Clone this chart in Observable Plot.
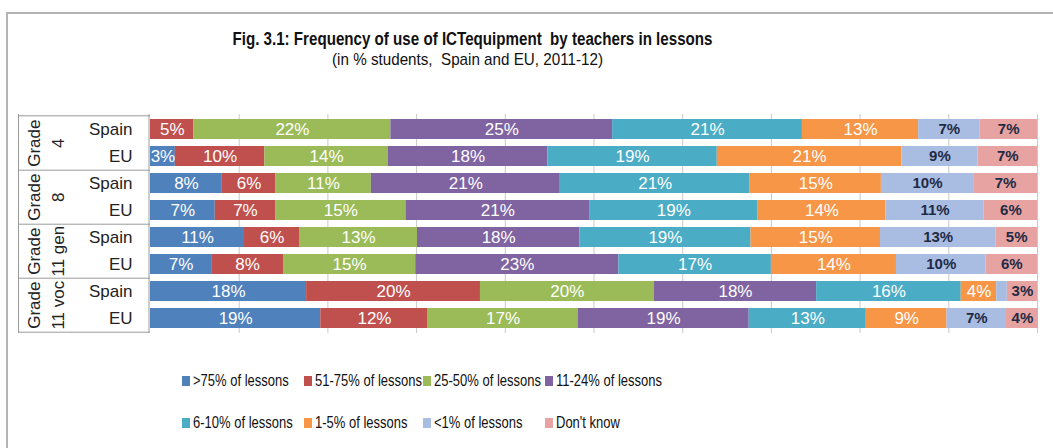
<!DOCTYPE html>
<html><head><meta charset="utf-8">
<script src="https://cdn.jsdelivr.net/npm/d3@7"></script>
<script src="https://cdn.jsdelivr.net/npm/@observablehq/plot@0.6"></script>
<style>
body{margin:0;background:#fff;}
#wrap{position:relative;width:1053px;height:448px;overflow:hidden;font-family:"Liberation Sans",Arial,sans-serif;background:#fff;}
#frame{position:absolute;left:6px;top:12px;width:1100px;height:500px;border-left:2px solid #b4b4b4;border-top:2px solid #b4b4b4;}
.sq{display:inline-block;white-space:nowrap;}
#title{position:absolute;left:0;width:944px;top:29px;text-align:center;font-weight:bold;font-size:17.5px;color:#111;line-height:20px;}
#subtitle{position:absolute;left:0;width:936px;top:50px;text-align:center;font-size:17px;color:#111;line-height:20px;}
#title .sq,#subtitle .sq{transform-origin:center;}
#chart{position:absolute;left:0;top:0;}
#legend{position:absolute;left:182px;top:371px;display:grid;grid-template-columns:122px 119px 122px auto;row-gap:22px;font-size:17px;color:#111;}
.item{display:flex;align-items:center;height:20px;white-space:nowrap;}
.item .sq{transform:scaleX(0.765);transform-origin:left center;}
.sw{width:8px;height:10px;margin-right:3px;display:inline-block;flex:none;}
</style></head>
<body>
<div id="wrap">
  <div id="frame"></div>
  <div id="title"><span class="sq" data-w="480">Fig. 3.1: Frequency of use of ICTequipment&nbsp; by teachers in lessons</span></div>
  <div id="subtitle"><span class="sq" data-w="271">(in % students,&nbsp; Spain and EU, 2011-12)</span></div>
  <div id="chart"></div>
  <div id="legend"></div>
</div>
<script>
const grades = ["Grade 4", "Grade 8", "Grade 11 gen", "Grade 11 voc"];
const gradeLabels = ["Grade\n4", "Grade\n8", "Grade\n11 gen", "Grade\n11 voc"];
const regions = ["Spain", "EU"];
const categories = [">75% of lessons", "51-75% of lessons", "25-50% of lessons", "11-24% of lessons",
  "6-10% of lessons", "1-5% of lessons", "<1% of lessons", "Don't know"];
const colors = ["#4f81bd", "#c0504d", "#9bbb59", "#8064a2", "#4bacc6", "#f79646", "#a9bde3", "#e6a3a1"];
const darkLabelCats = ["<1% of lessons", "Don't know"];

const grade4Spain  = [0,    4.9, 22.2, 25.0, 21.4, 13.1, 6.9, 6.5];
const grade4EU     = [2.8, 10.1, 13.9, 18.0, 19.1, 20.8, 8.6, 6.7];
const grade8Spain  = [8.1,  6.0, 10.8, 21.3, 21.4, 14.8, 10.4, 7.2];
const grade8EU     = [7.3,  6.8, 14.7, 20.7, 19.0, 14.4, 11.1, 6.0];
const grade11gSpain= [10.6, 6.2, 13.3, 18.3, 19.3, 14.6, 13.0, 4.7];
const grade11gEU   = [6.9,  8.1, 14.9, 22.9, 17.2, 14.1, 10.1, 5.8];
const grade11vSpain= [17.6,19.6, 19.6, 18.3, 16.3, 4.0, 1.2, 3.4];
const grade11vEU   = [19.2,12.1, 16.9, 19.3, 13.2, 9.1, 6.7, 3.6];
const gridTicks = [10, 20, 30, 40, 50, 60, 70, 80, 90, 100];

const series = [
  [grade4Spain, grade4EU], [grade8Spain, grade8EU],
  [grade11gSpain, grade11gEU], [grade11vSpain, grade11vEU]
];
const rowKeys = [];
const data = [];
grades.forEach((g, gi) => regions.forEach((r, ri) => {
  const key = g + "|" + r;
  rowKeys.push(key);
  series[gi][ri].forEach((v, ci) => data.push({row: key, cat: categories[ci], value: v}));
}));

const halfStep = 13.6875;
const dark = new Set(darkLabelCats);
const fmt = v => Math.round(v) + "%";
const stackOpts = {x: "value", y: "row", z: "cat", order: categories};

const plot = Plot.plot({
  width: 1053, height: 345,
  marginLeft: 150, marginRight: 16, marginTop: 114, marginBottom: 12,
  x: {domain: [0, 100], axis: null},
  y: {domain: rowKeys, paddingInner: 0.25, paddingOuter: 0.125},
  color: {domain: categories, range: colors},
  style: {fontFamily: "'Liberation Sans', Arial, sans-serif", background: "transparent", color: "#222"},
  marks: [
    Plot.gridX(gridTicks, {stroke: "#c9c9c9", strokeOpacity: 1}),
    Plot.barX(data, Plot.stackX({...stackOpts, fill: "cat"})),
    Plot.textX(data, Plot.stackX({...stackOpts,
      text: d => (!dark.has(d.cat) && d.value >= 2) ? fmt(d.value) : null,
      fill: "white", fontSize: 17})),
    Plot.textX(data, Plot.stackX({...stackOpts,
      text: d => (dark.has(d.cat) && d.value >= 2) ? fmt(d.value) : null,
      fill: "#1f2a44", fontSize: 15, fontWeight: "bold"})),
    Plot.axisY({tickSize: 0, tickPadding: 18, tickFormat: k => k.split("|")[1], fontSize: 17, label: null, color: "#222"}),
    Plot.axisY([rowKeys[0]], {tickSize: 132, dy: -halfStep, tickFormat: () => "", label: null, stroke: "#9a9a9a"}),
    Plot.axisY(rowKeys.filter(k => k.endsWith("|EU")), {tickSize: 132, dy: halfStep, tickFormat: () => "", label: null, stroke: "#9a9a9a"}),
    Plot.ruleX([0], {dx: -1.5, stroke: "#9a9a9a"}),
    Plot.ruleX([0], {dx: -132, stroke: "#9a9a9a"}),
    Plot.text(grades, {y: g => g + "|Spain", dy: halfStep, frameAnchor: "left", dx: -106,
      rotate: -90, text: (g, i) => gradeLabels[i], lineHeight: 1.4, fontSize: 17,
      textAnchor: "middle", lineAnchor: "middle", fill: "#222"})
  ]
});
document.getElementById("chart").appendChild(plot);

const legend = document.getElementById("legend");
categories.forEach((c, i) => {
  const item = document.createElement("div");
  item.className = "item";
  const sw = document.createElement("span");
  sw.className = "sw";
  sw.style.background = colors[i];
  item.appendChild(sw);
  const t = document.createElement("span");
  t.className = "sq";
  t.textContent = c;
  item.appendChild(t);
  legend.appendChild(item);
});

document.querySelectorAll("#title .sq, #subtitle .sq").forEach(el => {
  const w = el.getBoundingClientRect().width;
  el.style.transform = `scaleX(${(+el.dataset.w / w).toFixed(3)})`;
});
</script>
</body></html>
